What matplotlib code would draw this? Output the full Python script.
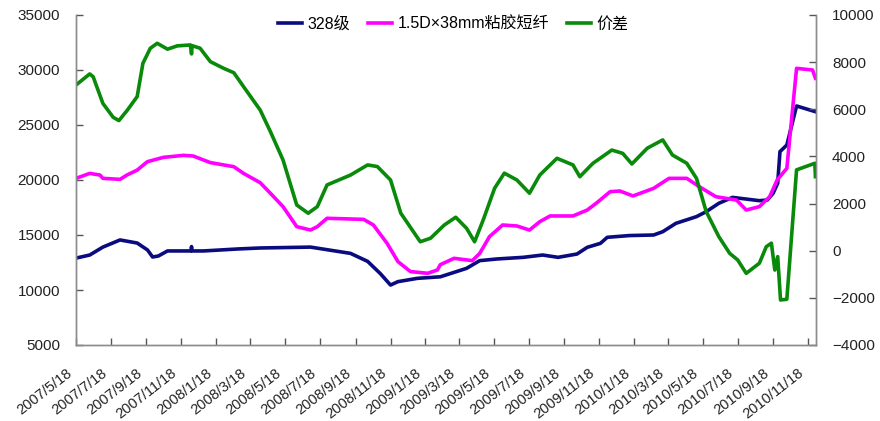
import matplotlib
matplotlib.use("Agg")
import matplotlib.pyplot as plt
from matplotlib.transforms import ScaledTranslation
import pandas as pd

plt.rcParams['font.family'] = ['Liberation Sans', 'Noto Sans CJK SC', 'DejaVu Sans']

# ---------------- data ----------------
blue_dates = ["2007-05-18", "2007-06-11", "2007-07-04", "2007-08-03", "2007-09-02", "2007-09-20",
              "2007-09-29", "2007-10-09", "2007-10-25", "2007-12-05", "2007-12-06", "2007-12-07",
              "2007-12-27", "2008-02-25", "2008-04-04", "2008-07-01", "2008-09-09", "2008-10-09",
              "2008-10-31", "2008-11-18", "2008-12-01", "2009-01-04", "2009-02-13", "2009-03-03",
              "2009-03-31", "2009-04-23", "2009-05-23", "2009-07-08", "2009-08-11", "2009-09-07",
              "2009-10-10", "2009-10-28", "2009-11-20", "2009-12-02", "2010-01-10", "2010-02-21",
              "2010-03-09", "2010-04-01", "2010-05-07", "2010-05-24", "2010-06-15", "2010-07-09",
              "2010-08-25", "2010-09-08", "2010-09-18", "2010-09-26", "2010-09-30", "2010-10-12",
              "2010-10-29", "2010-12-01"]
blue_vals = [12900, 13180, 13900, 14550, 14270, 13640,
             13000, 13090, 13550, 13550, 13950, 13550,
             13550, 13730, 13820, 13900, 13330, 12600,
             11500, 10450, 10760, 11060, 11200, 11500,
             11970, 12670, 12820, 12970, 13180, 12970,
             13270, 13880, 14240, 14790, 14950, 15000,
             15300, 16060, 16670, 17120, 17880, 18420,
             18120, 18180, 18790, 19700, 22580, 23180,
             26730, 26210]

pink_dates = ["2007-05-18", "2007-06-11", "2007-06-29", "2007-07-04", "2007-08-03", "2007-08-15",
              "2007-09-02", "2007-09-20", "2007-10-18", "2007-11-22", "2007-12-09", "2008-01-08",
              "2008-02-18", "2008-03-06", "2008-04-04", "2008-04-22", "2008-05-14", "2008-06-07",
              "2008-07-01", "2008-07-13", "2008-07-30", "2008-10-02", "2008-10-19", "2008-11-12",
              "2008-12-01", "2008-12-23", "2009-01-22", "2009-02-08", "2009-02-13", "2009-03-09",
              "2009-04-10", "2009-04-23", "2009-05-10", "2009-06-02", "2009-06-27", "2009-07-19",
              "2009-08-06", "2009-08-24", "2009-10-03", "2009-10-28", "2009-11-14", "2009-12-07",
              "2009-12-24", "2010-01-16", "2010-02-21", "2010-03-20", "2010-04-20", "2010-05-12",
              "2010-06-10", "2010-07-16", "2010-08-02", "2010-08-25", "2010-09-12", "2010-09-25",
              "2010-10-12", "2010-10-29", "2010-11-26", "2010-12-01"]
pink_vals = [20150, 20600, 20450, 20150, 20060, 20450,
             20900, 21670, 22060, 22240, 22180, 21580,
             21210, 20600, 19760, 18790, 17580, 15760,
             15450, 15760, 16520, 16420, 15910, 14240,
             12580, 11670, 11520, 11820, 12300, 12880,
             12670, 13330, 14850, 15910, 15820, 15450,
             16210, 16730, 16730, 17270, 17940, 18940,
             19000, 18550, 19240, 20150, 20150, 19390,
             18480, 18180, 17270, 17580, 18480, 20000,
             21060, 30150, 30000, 29250]

green_dates = ["2007-05-18", "2007-06-11", "2007-06-17", "2007-07-04", "2007-07-22", "2007-08-01",
               "2007-08-16", "2007-09-02", "2007-09-12", "2007-09-25", "2007-10-07", "2007-10-25",
               "2007-11-11", "2007-12-04", "2007-12-06", "2007-12-07", "2007-12-21", "2008-01-08",
               "2008-01-31", "2008-02-18", "2008-03-06", "2008-04-04", "2008-04-22", "2008-05-14",
               "2008-06-07", "2008-06-27", "2008-07-13", "2008-07-30", "2008-09-09", "2008-10-09",
               "2008-10-26", "2008-11-18", "2008-12-06", "2009-01-09", "2009-01-27", "2009-02-20",
               "2009-03-12", "2009-03-31", "2009-04-14", "2009-04-29", "2009-05-19", "2009-06-05",
               "2009-06-27", "2009-07-19", "2009-08-06", "2009-09-05", "2009-10-03", "2009-10-15",
               "2009-11-07", "2009-12-10", "2009-12-29", "2010-01-14", "2010-02-10", "2010-03-09",
               "2010-03-26", "2010-04-20", "2010-05-07", "2010-05-24", "2010-06-15", "2010-07-04",
               "2010-07-18", "2010-08-02", "2010-08-25", "2010-09-06", "2010-09-15", "2010-09-21",
               "2010-09-26", "2010-10-01", "2010-10-12", "2010-10-29", "2010-11-30", "2010-12-01"]
green_vals = [7030, 7500, 7380, 6250, 5660, 5520,
              5970, 6540, 7950, 8590, 8800, 8550,
              8690, 8730, 8350, 8700, 8590, 8020,
              7740, 7550, 6960, 5970, 5050, 3850,
              1940, 1590, 1870, 2790, 3210, 3640,
              3570, 3000, 1590, 380, 530, 1090,
              1420, 950, 380, 1300, 2650, 3290,
              3000, 2440, 3210, 3920, 3640, 3140,
              3710, 4270, 4130, 3680, 4350, 4700,
              4060, 3710, 3070, 1660, 600, -110,
              -390, -960, -530, 170, 320, -820,
              -250, -2090, -2060, 3430, 3710, 3140]

tick_dates = ["2007-05-18", "2007-07-18", "2007-09-18", "2007-11-18", "2008-01-18", "2008-03-18",
              "2008-05-18", "2008-07-18", "2008-09-18", "2008-11-18", "2009-01-18", "2009-03-18",
              "2009-05-18", "2009-07-18", "2009-09-18", "2009-11-18", "2010-01-18", "2010-03-18",
              "2010-05-18", "2010-07-18", "2010-09-18", "2010-11-18"]
tick_labels = ["2007/5/18", "2007/7/18", "2007/9/18", "2007/11/18", "2008/1/18", "2008/3/18",
               "2008/5/18", "2008/7/18", "2008/9/18", "2008/11/18", "2009/1/18", "2009/3/18",
               "2009/5/18", "2009/7/18", "2009/9/18", "2009/11/18", "2010/1/18", "2010/3/18",
               "2010/5/18", "2010/7/18", "2010/9/18", "2010/11/18"]

series_names = ["328级", "1.5D×38mm粘胶短纤", "价差"]

# ---------------- plot ----------------
fig = plt.figure(figsize=(8.8, 4.21), dpi=100)
ax = fig.add_axes([76/880, 1-345/421, (816-76)/880, (345-15)/421])
ax2 = ax.twinx()

spine_c = '#8c8c8c'
l1, = ax.plot(pd.to_datetime(blue_dates), blue_vals, color='#0b0b80', lw=2.6, label=series_names[0])
l2, = ax.plot(pd.to_datetime(pink_dates), pink_vals, color='#ff00ff', lw=2.6, label=series_names[1])
l3, = ax2.plot(pd.to_datetime(green_dates), green_vals, color='#0a8a0a', lw=2.6, label=series_names[2])

ax.set_xlim(pd.Timestamp("2007-05-18"), pd.Timestamp("2010-12-02"))
ax.set_ylim(5000, 35000)
ax2.set_ylim(-4000, 10000)
ax.set_yticks(range(5000, 35001, 5000))
ax2.set_yticks(range(-4000, 10001, 2000))
ax.set_xticks(pd.to_datetime(tick_dates))
ax.set_xticklabels(tick_labels, rotation=38, ha='right', va='center', rotation_mode='anchor')

for a in (ax, ax2):
    a.spines['top'].set_visible(False)
    for s in ('left', 'right', 'bottom'):
        a.spines[s].set_color(spine_c)
        a.spines[s].set_linewidth(1.0)
    a.tick_params(direction='in', length=5, width=1, color='#555555', labelsize=11,
                  labelcolor='#222222')
ax.tick_params(axis='y', pad=11.5)
ax2.tick_params(axis='y', pad=11.5)
ax.tick_params(axis='x', pad=19, labelsize=10.5)
shift = ScaledTranslation(-6/100, 0, fig.dpi_scale_trans)
for lab in ax.get_xticklabels():
    lab.set_transform(lab.get_transform() + shift)

fig.legend(handles=[l1, l2, l3], labels=series_names, loc='center',
           bbox_to_anchor=(0.515, 0.943), ncol=3, frameon=False, handlelength=1.5,
           columnspacing=1.1, handletextpad=0.35,
           prop={'family': ['Liberation Sans', 'Noto Sans CJK SC'], 'size': 11.5})

fig.savefig("out.png", dpi=100)
